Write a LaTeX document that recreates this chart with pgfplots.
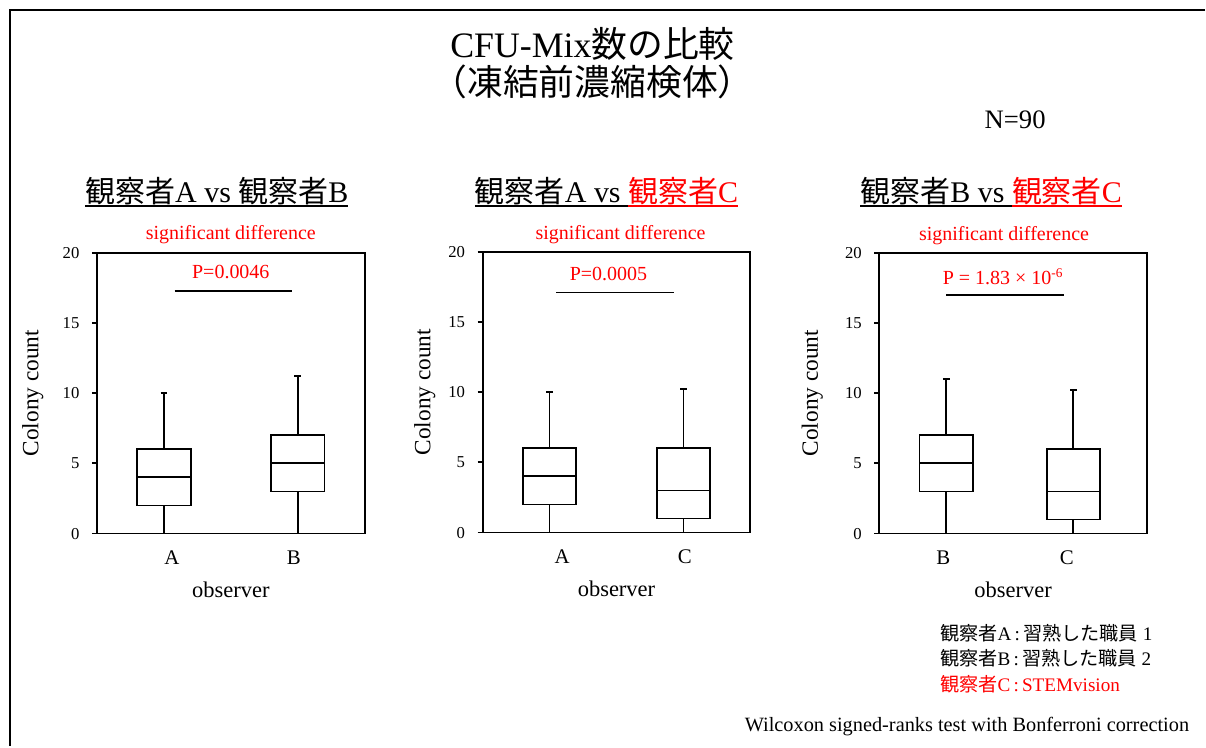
\documentclass[border=0pt]{standalone}
\usepackage{pgfplots}
\pgfplotsset{compat=1.18}
\usepgfplotslibrary{statistics}
\usepackage{fontspec}
\setmainfont{Liberation Serif}
\newfontfamily\cjk{Noto Sans CJK JP}

% underline with a thicker rule
\newcommand\ul[1]{\vtop{\hbox{\raisebox{0pt}[\height][0pt]{#1}}\kern1.8pt\hrule height 1.1pt}}

\tikzset{
  sigtxt/.style={text=red, font=\fontsize{12}{14}\selectfont},
  ttl/.style={font=\fontsize{21.5}{22}\selectfont, inner sep=0pt, anchor=base},
}

\pgfplotsset{
  panel/.style={
    scale only axis, width=160.8pt, height=168.6pt,
    xmin=0.5, xmax=2.5, ymin=0, ymax=20,
    ytick={0,5,10,15,20},
    ytick pos=left, tick align=outside, major tick length=3pt,
    xtick style={draw=none},
    axis line style={line width=1.1pt},
    ytick style={black, line width=1.1pt},
    /pgf/number format/assume math mode=true,
    yticklabel style={font=\fontsize{10}{12}\selectfont, xshift=-4pt},
    xticklabel style={font=\fontsize{12.5}{14}\selectfont, yshift=-4pt},
    ylabel={Colony count},
    xlabel={observer},
    ylabel style={font=\fontsize{14}{16}\selectfont},
    xlabel style={font=\fontsize{13.5}{16}\selectfont, at={(axis description cs:0.5,-0.2)}, anchor=center},
    boxplot/draw direction=y,
    clip=false,
  },
  bx/.style={draw=black, line width=1.1pt, solid, mark=none},
  sig/.style={black, line width=1.1pt, mark=none},
}

\begin{document}
\begin{tikzpicture}
\begin{scope}[x=0.6pt,y=0.6pt]
\path[fill=white] (0,0) rectangle (1206,747);
\draw[line width=1.2pt] (1206,737) -- (10,737) -- (10,0);

\node[ttl] at (593,689) {CFU-Mix{\cjk 数の比較}};
\node[ttl] at (593,651) {{\cjk （凍結前濃縮検体）}};
\node[font=\fontsize{16}{18}\selectfont] at (1016,627) {N=90};

\node[font=\fontsize{18}{20}\selectfont] at (217,555)
  {\ul{{\cjk 観察者}A vs {\cjk 観察者}B}};
\node[font=\fontsize{18}{20}\selectfont] at (607,555)
  {\ul{{\cjk 観察者}A vs\ }\textcolor{red}{\ul{{\cjk 観察者}C}}};
\node[font=\fontsize{18}{20}\selectfont] at (992,555)
  {\ul{{\cjk 観察者}B vs\ }\textcolor{red}{\ul{{\cjk 観察者}C}}};

\node[anchor=base west, font=\fontsize{11.5}{13}\selectfont] at (935,106)
  {{\cjk 観察者}A\,:\,{\cjk 習熟した職員} 1};
\node[anchor=base west, font=\fontsize{11.5}{13}\selectfont] at (935,81)
  {{\cjk 観察者}B\,:\,{\cjk 習熟した職員} 2};
\node[anchor=base west, text=red, font=\fontsize{11.5}{13}\selectfont] at (935,55)
  {{\cjk 観察者}C\,:\,STEMvision};
\node[anchor=east, font=\fontsize{12.2}{14}\selectfont] at (1196,20)
  {Wilcoxon signed-ranks test with Bonferroni correction};
\end{scope}

% panel 1: A vs B
\begin{axis}[panel, at={(58.2pt,127.8pt)}, anchor=south west,
  xtick={1.06,1.97}, xticklabels={A,B},
  ylabel style={at={(axis description cs:-0.239,0.5)}, anchor=center}]
\addplot[bx, boxplot prepared={lower whisker=0, lower quartile=2, median=4,
  upper quartile=6, upper whisker=10, draw position=1, box extend=0.4,
  whisker extend=0.05}] coordinates {};
\addplot[bx, boxplot prepared={lower whisker=0, lower quartile=3, median=5,
  upper quartile=7, upper whisker=11.2, draw position=2, box extend=0.4,
  whisker extend=0.05}] coordinates {};
\addplot[sig] coordinates {(1.08,17.3) (1.96,17.3)};
\node[sigtxt] at (rel axis cs:0.5,1.064) {significant difference};
\node[sigtxt] at (axis cs:1.5,18.6) {P=0.0046};
\end{axis}

% panel 2: A vs C
\begin{axis}[panel, at={(289.8pt,128.4pt)}, anchor=south west,
  xtick={1.095,2.01}, xticklabels={A,C},
  ylabel style={at={(axis description cs:-0.216,0.5)}, anchor=center}]
\addplot[bx, boxplot prepared={lower whisker=0, lower quartile=2, median=4,
  upper quartile=6, upper whisker=10, draw position=1, box extend=0.4,
  whisker extend=0.05}] coordinates {};
\addplot[bx, boxplot prepared={lower whisker=0, lower quartile=1, median=3,
  upper quartile=6, upper whisker=10.2, draw position=2, box extend=0.4,
  whisker extend=0.05}] coordinates {};
\addplot[sig] coordinates {(1.05,17.1) (1.93,17.1)};
\node[sigtxt] at (rel axis cs:0.515,1.06) {significant difference};
\node[sigtxt] at (axis cs:1.44,18.4) {P=0.0005};
\end{axis}

% panel 3: B vs C
\begin{axis}[panel, at={(528pt,127.8pt)}, anchor=south west,
  xtick={0.978,1.90}, xticklabels={B,C},
  ylabel style={at={(axis description cs:-0.25,0.5)}, anchor=center}]
\addplot[bx, boxplot prepared={lower whisker=0, lower quartile=3, median=5,
  upper quartile=7, upper whisker=11, draw position=1, box extend=0.4,
  whisker extend=0.05}] coordinates {};
\addplot[bx, boxplot prepared={lower whisker=0, lower quartile=1, median=3,
  upper quartile=6, upper whisker=10.2, draw position=1.95, box extend=0.4,
  whisker extend=0.05}] coordinates {};
\addplot[sig] coordinates {(1.0,17.0) (1.88,17.0)};
\node[sigtxt] at (rel axis cs:0.466,1.06) {significant difference};
\node[sigtxt] at (axis cs:1.425,18.3) {P = 1.83 × 10\textsuperscript{-6}};
\end{axis}
\end{tikzpicture}
\end{document}
